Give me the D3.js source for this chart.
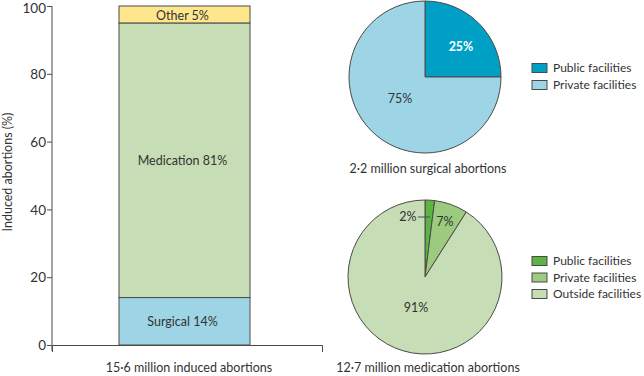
<!DOCTYPE html>
<html><head><meta charset="utf-8">
<script src="https://cdn.jsdelivr.net/npm/d3@7"></script>
<style>body{margin:0;background:#fff}svg{display:block;font-family:Lato,"Open Sans",sans-serif;}</style>
</head><body>
<svg id="c" width="644" height="376"></svg>
<script>
const barCategories = ["Surgical", "Medication", "Other"];
const barValues = [14, 81, 5];
const barColors = ["#9dd5e6", "#c7ddb5", "#fde68c"];
const yTicks = [0, 20, 40, 60, 80, 100];
const barCaption = "15·6 million induced abortions";
const yLabel = "Induced abortions (%)";

const surgLabels = ["Public facilities", "Private facilities"];
const surgValues = [25, 75];
const surgColors = ["#00a0c6", "#9dd5e6"];
const surgCaption = "2·2 million surgical abortions";

const medLabels = ["Public facilities", "Private facilities", "Outside facilities"];
const medValues = [2, 7, 91];
const medColors = ["#5cb443", "#9ccb7f", "#c7ddb5"];
const medCaption = "12·7 million medication abortions";

const svg = d3.select("#c");
const txt = "#333";
const stroke = "#4a4a4a";
const fs = 12.5;

// ---- Bar chart ----
const y = d3.scaleLinear().domain([0, 100]).range([345, 6]);
const bx0 = 119, bw = 131;

const yAxis = svg.append("g").attr("transform", "translate(52,0)")
  .call(d3.axisLeft(y).tickValues(yTicks).tickSize(5).tickSizeOuter(0).tickFormat(d3.format("d")));
yAxis.select(".domain").attr("d", "M0,6V351").attr("stroke", stroke);
yAxis.selectAll(".tick line").attr("stroke", stroke);
yAxis.selectAll(".tick text").attr("font-size", 13.5).attr("fill", txt)
  .attr("font-family", "Lato, 'Open Sans', sans-serif").attr("x", -6)
  .attr("dy", d => d === 100 ? "0.45em" : "0.35em");

const xAxis = svg.append("g").attr("transform", "translate(0,345)")
  .call(d3.axisBottom(d3.scaleLinear().domain([0,1]).range([52, 322])).tickValues([]).tickSizeOuter(7));
xAxis.select(".domain").attr("stroke", stroke);

let cum = 0;
const stack = barValues.map((v, i) => { const s = {cat: barCategories[i], v, y0: cum, y1: cum + v, color: barColors[i]}; cum += v; return s; });
svg.append("g").selectAll("rect").data(stack).join("rect")
  .attr("x", bx0).attr("width", bw)
  .attr("y", d => y(d.y1)).attr("height", d => y(d.y0) - y(d.y1))
  .attr("fill", d => d.color).attr("stroke", stroke).attr("stroke-width", 1);
svg.append("g").selectAll("text").data(stack).join("text")
  .attr("x", bx0 + bw / 2 - 2).attr("y", d => y((d.y0 + d.y1) / 2) + (d.cat === "Other" ? 1 : 0))
  .attr("dy", "0.35em").attr("text-anchor", "middle").attr("font-size", fs).attr("fill", txt)
  .text(d => `${d.cat} ${d.v}%`);
svg.append("text").attr("x", 189).attr("y", 368).attr("dy", "0.35em").attr("text-anchor", "middle")
  .attr("font-size", fs).attr("fill", txt).text(barCaption);
svg.append("text").attr("transform", "translate(8,172) rotate(-90)").attr("dy", "0.35em").attr("text-anchor", "middle")
  .attr("font-size", fs).attr("fill", txt).text(yLabel);

// ---- Pies ----
function drawPie(cx, cy, r, labels, values, colors, labelPos, caption, capY, legY, legStep) {
  const g = svg.append("g").attr("transform", `translate(${cx},${cy})`);
  const pie = d3.pie().sort(null).value(d => d)(values);
  const arc = d3.arc().innerRadius(0).outerRadius(r);
  g.selectAll("path").data(pie).join("path").attr("d", arc)
    .attr("fill", (d, i) => colors[i]).attr("stroke", stroke).attr("stroke-width", 1);
  labelPos.forEach((p, i) => {
    if (!p) return;
    g.append("text").attr("x", p[0]).attr("y", p[1]).attr("dy", "0.35em").attr("text-anchor", "middle")
      .attr("font-size", fs).attr("fill", p[2] || txt).attr("font-weight", p[3] || "normal").text(values[i] + "%");
  });
  svg.append("text").attr("x", cx + 3).attr("y", capY).attr("dy", "0.35em").attr("text-anchor", "middle")
    .attr("font-size", fs).attr("fill", txt).text(caption);
  const lg = svg.append("g").attr("transform", `translate(532,${legY})`);
  labels.forEach((l, i) => {
    lg.append("rect").attr("x", 0).attr("y", i * legStep - 4.5).attr("width", 15).attr("height", 9)
      .attr("fill", colors[i]).attr("stroke", stroke).attr("stroke-width", 1);
    lg.append("text").attr("x", 21).attr("y", i * legStep).attr("dy", "0.35em").attr("font-size", 12)
      .attr("fill", txt).text(l);
  });
  return g;
}

drawPie(425, 77, 76, surgLabels, surgValues, surgColors,
  [[36, -30, "#fff", "bold"], [-25, 22]], surgCaption, 169, 68, 17);
const g2 = drawPie(425, 277, 77, medLabels, medValues, medColors,
  [null, [20, -55], [-9, 31]], medCaption, 368, 261, 16.5);
g2.append("text").attr("x", -17).attr("y", -60).attr("dy", "0.35em").attr("text-anchor", "middle")
  .attr("font-size", fs).attr("fill", txt).text(medValues[0] + "%");
g2.append("line").attr("x1", -7).attr("x2", 5).attr("y1", -60).attr("y2", -60).attr("stroke", stroke);
</script>
</body></html>
